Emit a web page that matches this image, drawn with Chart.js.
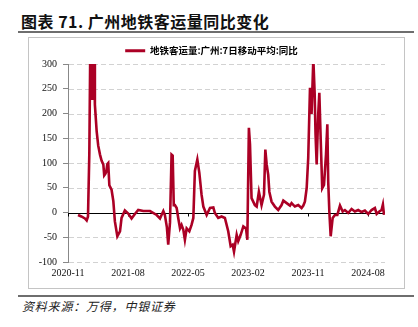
<!DOCTYPE html>
<html>
<head>
<meta charset="utf-8">
<script src="https://cdn.jsdelivr.net/npm/chart.js@4/dist/chart.umd.min.js"></script>
<style>
  html, body { margin: 0; padding: 0; background: #fff; }
  #wrap { position: relative; width: 418px; height: 327px; overflow: hidden; }
  #title { position: absolute; left: 21px; top: 12px; font: bold 16px "Noto Sans CJK SC", sans-serif; line-height: 18px; letter-spacing: 0.5px; color: #111; white-space: nowrap; }
  .rule { position: absolute; left: 18px; width: 396px; height: 2px; background: #6e6e6e; }
  #box { position: absolute; left: 28px; top: 37px; width: 375px; height: 250px; border: 1px solid #c4c4c4; }
  #src { position: absolute; left: 22px; top: 299px; font: italic 12px "Noto Sans CJK SC", sans-serif; line-height: 14px; letter-spacing: 0.8px; color: #222; white-space: nowrap; }
  canvas { position: absolute; left: 0; top: 0; }
</style>
</head>
<body>
<div id="wrap">
  <div id="title">图表 71. 广州地铁客运量同比变化</div>
  <div class="rule" style="top:31px"></div>
  <div id="box"></div>
  <div class="rule" style="top:295px"></div>
  <div id="src">资料来源：万得，中银证券</div>
  <canvas id="c" width="418" height="327"></canvas>
</div>
<script>
// ---- data ----
const seriesName = "地铁客运量:广州:7日移动平均:同比";
const tickLabels = ["2020-11", "2021-08", "2022-05", "2023-02", "2023-11", "2024-08"];
const dates = [
  "2020-12-16","2021-01-01","2021-01-17","2021-01-25","2021-02-01","2021-02-07","2021-02-11","2021-02-16",
  "2021-02-19","2021-02-23","2021-02-28","2021-03-02","2021-03-10","2021-03-17","2021-03-25","2021-04-02",
  "2021-04-10","2021-04-14","2021-04-19","2021-04-23","2021-04-28","2021-05-02","2021-05-07","2021-05-17",
  "2021-05-25","2021-06-02","2021-06-13","2021-06-25","2021-07-02","2021-07-17","2021-08-02","2021-08-17",
  "2021-09-02","2021-09-17","2021-10-10","2021-11-10","2021-12-10","2021-12-25","2022-01-10","2022-01-17",
  "2022-01-26","2022-02-02","2022-02-10","2022-02-17","2022-02-22","2022-02-27","2022-03-02","2022-03-10",
  "2022-03-17","2022-03-25","2022-04-02","2022-04-10","2022-04-17","2022-04-25","2022-05-07","2022-05-17",
  "2022-05-25","2022-06-02","2022-06-13","2022-06-22","2022-07-02","2022-07-10","2022-07-25","2022-08-10",
  "2022-08-25","2022-09-02","2022-09-17","2022-10-02","2022-10-17","2022-11-02","2022-11-13","2022-11-22",
  "2022-11-28","2022-12-10","2022-12-17","2022-12-28","2023-01-10","2023-01-22","2023-01-28","2023-02-05",
  "2023-02-10","2023-02-17","2023-03-02","2023-03-10","2023-03-20","2023-04-02","2023-04-13","2023-04-19",
  "2023-04-25","2023-05-02","2023-05-07","2023-05-17","2023-06-02","2023-06-17","2023-07-02","2023-07-10",
  "2023-07-25","2023-08-10","2023-08-17","2023-09-02","2023-09-17","2023-10-02","2023-10-10","2023-10-17",
  "2023-10-25","2023-11-02","2023-11-10","2023-11-17","2023-11-25","2023-12-01","2023-12-05","2023-12-10",
  "2023-12-17","2023-12-22","2023-12-28","2024-01-05","2024-01-13","2024-01-22","2024-01-28","2024-02-02",
  "2024-02-07","2024-02-13","2024-02-22","2024-03-02","2024-03-13","2024-03-25","2024-04-07","2024-04-17",
  "2024-05-02","2024-05-17","2024-06-02","2024-06-17","2024-07-02","2024-07-17","2024-08-02","2024-08-17",
  "2024-09-02","2024-09-10","2024-09-22","2024-10-02","2024-10-08","2024-10-13"
];
const yoyValues = [
  -5, -8, -12, -16, -8, 120, 320, 420,
  230, 350, 320, 218, 164, 135, 117, 105,
  97, 75, 78, 82, 98, 100, 55, 46,
  23, -18, -48, -38, -11, 4, -2, -12,
  -3, 5, 3, 3, -5, -12, 3, -5,
  -30, -65, -20, 117, 115, 15, 15, 9,
  -11, -32, -25, -35, -55, -32, -38, -25,
  -11, 84, 107, 80, 36, 12, -5, 9,
  10, -1, -11, -8, -11, -38, -68, -65,
  -79, -45, -58, -45, -28, -32, -55, 171,
  137, 29, 15, 12, 42, 15, 36, 127,
  97, 76, 42, 22, 12, 5, 15, 24,
  19, 14, 19, 12, 15, 9, 14, 22,
  49, 110, 252, 199, 310, 240, 157, 97,
  199, 242, 150, 49, 56, 117, 178, 62,
  2, -48, -11, -5, -5, 14, 2, 5,
  -1, 7, 2, 5, 1, 4, -3, 5,
  9, -3, 2, 5, 16, -5
];

function monthOffset(s) {
  const p = s.split('-').map(Number);
  return (p[0] - 2020) * 12 + (p[1] - 11) + ((p[2] || 1) - 1) / 30;
}
const points = dates.map((d, i) => ({ x: monthOffset(d), y: yoyValues[i] }));
const lineColor = '#ab0025';

const framePlugin = {
  id: 'frame',
  beforeLayout(chart) {
    const lg = chart.legend;
    if (lg && !lg._patched) {
      const f = lg.fit;
      lg.fit = function () { f.call(this); this.height = 26; };
      lg._patched = true;
    }
  },
  afterLayout(chart) {
    const lg = chart.legend;
    if (lg) { lg.left -= 15; lg.right -= 15; }
  },
  beforeDatasetsDraw(chart) {
    const { ctx, chartArea, scales } = chart;
    const ys = scales.y;
    ctx.save();
    // dashed horizontal grid lines
    ctx.strokeStyle = '#d2d2d2';
    ctx.lineWidth = 1;
    ctx.setLineDash([5, 3]);
    ctx.beginPath();
    ys.ticks.forEach(t => {
      if (t.value === 0) return;
      const py = Math.round(ys.getPixelForValue(t.value)) + 0.5;
      ctx.moveTo(chartArea.left + 1, py);
      ctx.lineTo(chartArea.right, py);
    });
    ctx.stroke();
    // solid zero line with small x tick marks
    ctx.setLineDash([]);
    const y0 = Math.round(ys.getPixelForValue(0)) + 0.5;
    ctx.strokeStyle = '#000';
    ctx.beginPath();
    ctx.moveTo(chartArea.left, y0);
    ctx.lineTo(chartArea.right, y0);
    scales.x.ticks.forEach(t => {
      const px = Math.round(scales.x.getPixelForValue(t.value)) + 0.5;
      ctx.moveTo(px, y0);
      ctx.lineTo(px, y0 + 3);
    });
    ctx.stroke();
    ctx.restore();
  }
};

new Chart(document.getElementById('c'), {
  type: 'line',
  data: {
    datasets: [{
      label: seriesName,
      data: points,
      borderColor: lineColor,
      backgroundColor: lineColor,
      borderWidth: 2.6,
      pointRadius: 0,
      tension: 0
    }]
  },
  options: {
    responsive: false,
    animation: false,
    layout: { padding: { top: 38, right: 33, bottom: 45, left: 0 } },
    plugins: {
      legend: {
        display: true,
        position: 'top',
        fullSize: false,
        labels: {
          boxWidth: 20,
          boxHeight: 3,
          padding: 8,
          color: '#111',
          font: { family: '"Noto Sans CJK SC", sans-serif', size: 9.5, weight: 'bold' },
          generateLabels: (chart) => [{
            text: seriesName, fillStyle: lineColor, strokeStyle: lineColor,
            lineWidth: 0, datasetIndex: 0, hidden: false
          }]
        }
      },
      tooltip: { enabled: false }
    },
    scales: {
      x: {
        type: 'linear',
        min: 0,
        max: 47.55,
        afterBuildTicks: (s) => { s.ticks = tickLabels.map(t => ({ value: monthOffset(t + '-01') })); },
        afterFit: (s) => { s.height = 20; },
        grid: { display: false, drawTicks: false },
        border: { display: false },
        ticks: {
          autoSkip: false,
          maxRotation: 0,
          padding: 5,
          color: '#111',
          font: { family: '"Liberation Serif", serif', size: 10 },
          callback: (v, i) => tickLabels[i]
        }
      },
      y: {
        min: -100,
        max: 300,
        afterFit: (s) => { s.width = 68; },
        ticks: {
          stepSize: 50,
          padding: 6,
          color: '#111',
          font: { family: '"Liberation Serif", serif', size: 10 }
        },
        grid: {
          drawOnChartArea: false,
          drawTicks: true,
          tickLength: 5,
          tickColor: '#888',
          lineWidth: 1
        },
        border: { display: true, color: '#888', width: 1 }
      }
    }
  },
  plugins: [framePlugin]
});
</script>
</body>
</html>
